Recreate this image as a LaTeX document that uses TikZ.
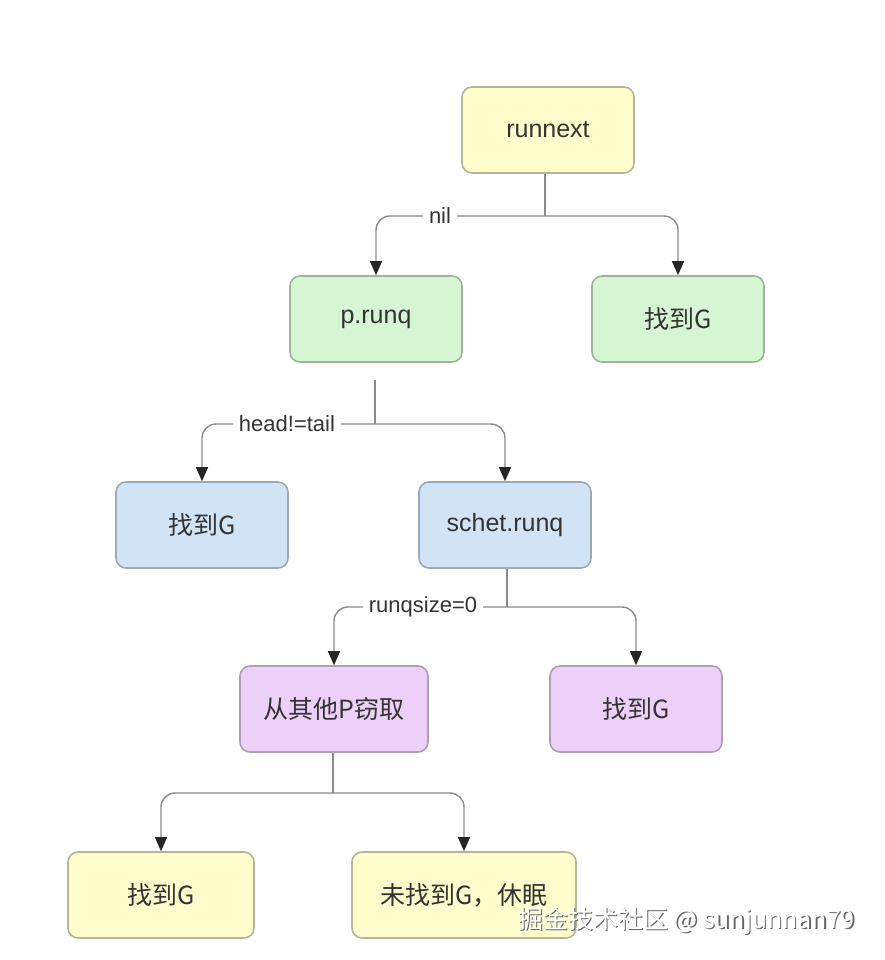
\documentclass[tikz,border=0pt]{standalone}
\usepackage{fontspec}
\setmainfont{Liberation Sans}
\newfontfamily\cjk{Noto Sans CJK SC}
\usetikzlibrary{arrows.meta}
\definecolor{yfill}{HTML}{FFFDCC}\definecolor{ydraw}{HTML}{B5B59A}
\definecolor{gfill}{HTML}{D6F5D3}\definecolor{gdraw}{HTML}{9DB59B}
\definecolor{bfill}{HTML}{D0E4F6}\definecolor{bdraw}{HTML}{9EA9B6}
\definecolor{pfill}{HTML}{EDD0F8}\definecolor{pdraw}{HTML}{AE9EB6}
\definecolor{linec}{HTML}{8A8A8A}
\definecolor{txt}{HTML}{333333}
\tikzset{
  box/.style={rounded corners=10pt, line width=1.6pt, minimum height=86pt, text=txt,
    font=\fontsize{25}{28}\selectfont, inner sep=0pt},
  ybox/.style={box, fill=yfill, draw=ydraw},
  gbox/.style={box, fill=gfill, draw=gdraw},
  bbox/.style={box, fill=bfill, draw=bdraw},
  pbox/.style={box, fill=pfill, draw=pdraw},
  conn/.style={draw=linec, line width=1.4pt},
  arr/.style={conn, rounded corners=14pt, -{Triangle[length=14pt,width=12pt,color=black!85]}},
  lbl/.style={fill=white, text=txt, font=\fontsize{22}{24}\selectfont, inner xsep=6pt, inner ysep=2pt},
  wmark/.style={anchor=base west, font=\fontsize{25}{28}\selectfont, inner sep=0pt},
}
\begin{document}
\begin{tikzpicture}[x=1pt,y=-1pt]
\useasboundingbox (0,0) rectangle (885,960);
\fill[white] (0,0) rectangle (885,960);
% boxes
\node[ybox, minimum width=172pt] (runnext) at (548,130) {runnext};
\node[gbox, minimum width=172pt] (prunq) at (376,319) {p.runq};
\node[gbox, minimum width=172pt] (g1) at (678,319) {\cjk{找到}G};
\node[bbox, minimum width=172pt] (g2) at (202,525) {\cjk{找到}G};
\node[bbox, minimum width=172pt] (schet) at (505,525) {schet.runq};
\node[pbox, minimum width=188pt] (steal) at (334,709) {\cjk{从其他}P\cjk{窃取}};
\node[pbox, minimum width=172pt] (g3) at (636,709) {\cjk{找到}G};
\node[ybox, minimum width=186pt] (g4) at (161,895) {\cjk{找到}G};
\node[ybox, minimum width=224pt] (sleep) at (464,895) {\cjk{未找到}G\cjk{，休眠}};
% junction coordinates
\coordinate (j1) at (545,216);
\coordinate (s2) at (375,380);
\coordinate (j2) at (375,424);
\coordinate (j3) at (507,607);
\coordinate (j4) at (333,793);
% stems
\draw[conn] (runnext.south -| j1) -- (j1);
\draw[conn] (s2) -- (j2);
\draw[conn] (schet.south -| j3) -- (j3);
\draw[conn] (steal.south -| j4) -- (j4);
% branches
\draw[arr] (j1) -- (j1 -| prunq.north) -- (prunq.north);
\draw[arr] (j1) -- (j1 -| g1.north) -- (g1.north);
\draw[arr] (j2) -- (j2 -| g2.north) -- (g2.north);
\draw[arr] (j2) -- (j2 -| schet.north) -- (schet.north);
\draw[arr] (j3) -- (j3 -| steal.north) -- (steal.north);
\draw[arr] (j3) -- (j3 -| g3.north) -- (g3.north);
\draw[arr] (j4) -- (j4 -| g4.north) -- (g4.north);
\draw[arr] (j4) -- (j4 -| sleep.north) -- (sleep.north);
% labels
\node[lbl] (lnil) at (440,216) {nil};
\node[lbl] (lht) at (287,424) {head!=tail};
\node[lbl] (lrq) at (423,607) {runqsize=0};
% watermark
\node[wmark, text=black!60] (wms) at (519.5,929.5) {\cjk{掘金技术社区} @ sunjunnan79};
\node[wmark, text=white] (wm) at (518,928) {\cjk{掘金技术社区} @ sunjunnan79};
\end{tikzpicture}
\end{document}
